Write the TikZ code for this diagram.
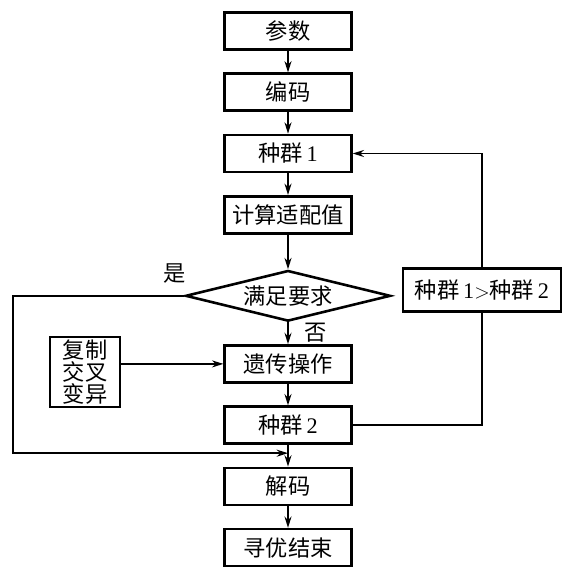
\documentclass[tikz,border=0pt]{standalone}
\usepackage{fontspec}
\setmainfont{Liberation Serif}
\newfontfamily\cjk{Noto Sans CJK SC}
\usetikzlibrary{arrows.meta,positioning,shapes.geometric,chains,calc}
\tikzset{
  gabox/.style={draw=black, line width=2.2pt, align=center, font=\cjk\fontsize{19}{19}\selectfont,
                minimum width=3.8cm, minimum height=1.11cm, inner sep=2pt},
  gadec/.style={draw=black, line width=2.2pt, diamond, aspect=4, inner sep=0pt,
                font=\cjk\fontsize{19}{19}\selectfont, minimum width=6.15cm, minimum height=1.52cm},
  galabel/.style={font=\cjk\fontsize{19}{19}\selectfont, inner sep=1pt},
  galine/.style={line width=1.5pt, black},
  gaarr/.style={-{Stealth[length=3.4mm,width=2.1mm]}, galine}
}
\begin{document}
\begin{tikzpicture}[x=0.03cm, y=-0.03cm, start chain=going below, node distance=6.5mm, every join/.style={gaarr}]
\useasboundingbox (0,0) rectangle (567,573);
% main column
\node[gabox, on chain] (par) at (288,31) {参数};
\node[gabox, on chain, join] (enc) {编码};
\node[gabox, on chain, join] (popa) {种群\,\textrm{1}};
\node[gabox, on chain, join] (fit) {计算适配值};
\node[gadec, on chain, join, below=10.4mm of fit] (dec) {满足要求};
\node[gabox, on chain, join] (gen) {遗传操作};
\node[gabox, on chain, join] (popb) {种群\,\textrm{2}};
\node[gabox, on chain, join] (decd) {解码};
\node[gabox, on chain, join] (stop) {寻优结束};
% side boxes
\node[gabox, minimum width=4.75cm, minimum height=1.3cm] (cmp) at (482,290) {种群\,\textrm{1}$>$种群\,\textrm{2}};
\node[gabox, minimum width=2.1cm, minimum height=2.05cm] (ops) at (85,372) {复制\\交叉\\变异};
\node[galabel] (yeslbl) at (175,274) {是};
\node[galabel] (nolbl) at (316,333) {否};
% loops
\coordinate (yesx) at (13,0);
\coordinate (yes) at ($(popb.south)!0.38!(decd.north)$);
\draw[gaarr] (dec.west) -- (dec.west -| yesx) |- (yes);
\draw[gaarr] (ops.east |- gen) -- (gen.west);
\draw[galine] (popb.east) -| (cmp.south);
\draw[gaarr] (cmp.north) |- (popa.east);
\end{tikzpicture}
\end{document}
